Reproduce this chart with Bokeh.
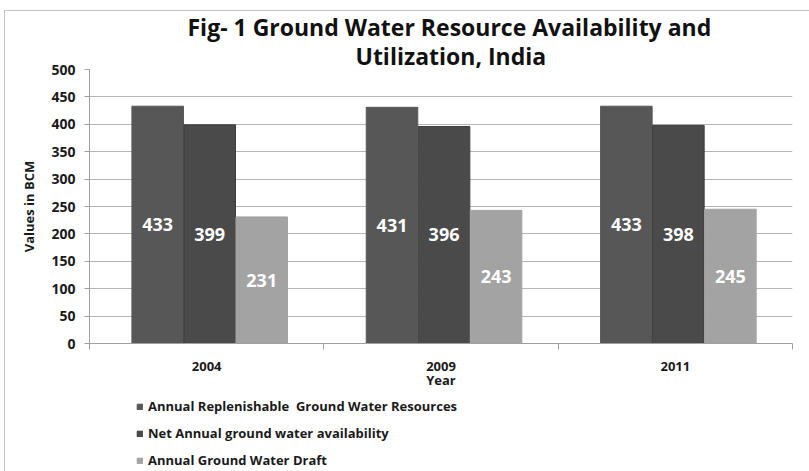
from bokeh.plotting import figure
from bokeh.layouts import column
from bokeh.models import (ColumnDataSource, FixedTicker, Legend, LegendItem, Title, Range1d)
from bokeh.core.properties import value
from bokeh.embed import file_html
from bokeh.resources import INLINE

years = ["2004", "2009", "2011"]
replenishable = [433, 431, 433]
net_avail = [399, 396, 398]
draft = [231, 243, 245]
series_names = ["Annual Replenishable  Ground Water Resources",
                "Net Annual ground water availability",
                "Annual Ground Water Draft"]
colors = ["#575757", "#4a4a4a", "#a3a3a3"]
y_ticks = [0, 50, 100, 150, 200, 250, 300, 350, 400, 450, 500]
title_lines = ["Fig- 1  Ground Water Resource Availability and", "Utilization, India"]
title_offsets = [98, 266]

FONT = "Open Sans"
centers = [i + 0.5 for i in range(len(years))]
offsets = [-0.222, 0.0, 0.222]
shift = 0.013
bw = 0.22
line_colors = [colors[0], "#3e3e3e", colors[2]]
series = [replenishable, net_avail, draft]

p = figure(width=804, height=382, output_backend="svg", toolbar_location=None,
           x_range=Range1d(0, 3), y_range=Range1d(0, 500),
           min_border_left=84, min_border_right=17, min_border_top=58, min_border_bottom=50)
p.outline_line_color = None
p.background_fill_color = "white"
p.border_fill_color = "white"

sources = []
for k, vals in enumerate(series):
    xs = [c + shift + offsets[k] for c in centers]
    src = ColumnDataSource(dict(x=xs, top=vals, mid=[v / 2 for v in vals],
                                lab=[str(v) for v in vals]))
    sources.append(src)
    p.vbar(x="x", top="top", width=bw, source=src, fill_color=colors[k],
           line_color=line_colors[k], line_width=1)
    p.text(x="x", y="mid", text="lab", source=src, text_color="white",
           text_font=value(FONT), text_font_style="bold", text_font_size="18px",
           text_align="center", text_baseline="middle")

# axes
p.yaxis.ticker = FixedTicker(ticks=y_ticks)
p.yaxis.major_label_text_font = FONT
p.yaxis.major_label_text_font_style = "bold"
p.yaxis.major_label_text_font_size = "14px"
p.yaxis.major_label_text_color = "#1a1a1a"
p.yaxis.major_tick_out = 5
p.yaxis.major_tick_in = 0
p.yaxis.minor_tick_line_color = None
p.yaxis.major_tick_line_color = "#a0a0a0"
p.yaxis.axis_line_color = "#a0a0a0"
p.yaxis.major_label_standoff = 9
p.yaxis.axis_label = "Values in BCM"
p.yaxis.axis_label_text_font = FONT
p.yaxis.axis_label_text_font_style = "bold"
p.yaxis.axis_label_text_font_size = "13px"
p.yaxis.axis_label_text_color = "#1a1a1a"
p.yaxis.axis_label_standoff = 10

p.xaxis.ticker = FixedTicker(ticks=centers, minor_ticks=[0, 1, 2, 3])
p.xaxis.major_label_overrides = {c: y for c, y in zip(centers, years)}
p.xaxis.major_label_text_font = FONT
p.xaxis.major_label_text_font_style = "bold"
p.xaxis.major_label_text_font_size = "13px"
p.xaxis.major_label_text_color = "#1a1a1a"
p.xaxis.major_tick_line_color = None
p.xaxis.major_tick_out = 0
p.xaxis.major_tick_in = 0
p.xaxis.minor_tick_out = 6
p.xaxis.minor_tick_in = 0
p.xaxis.minor_tick_line_color = "#a0a0a0"
p.xaxis.axis_line_color = "#a0a0a0"
p.xaxis.major_label_standoff = 12
p.xaxis.axis_label = "Year"
p.xaxis.axis_label_text_font = FONT
p.xaxis.axis_label_text_font_style = "bold"
p.xaxis.axis_label_text_font_size = "13px"
p.xaxis.axis_label_text_color = "#1a1a1a"
p.xaxis.axis_label_standoff = -3

p.xgrid.grid_line_color = None
p.ygrid.ticker = FixedTicker(ticks=y_ticks)
p.ygrid.grid_line_color = "#b4b4b4"

# title: second line first (closest to plot), then first line
for line, off in reversed(list(zip(title_lines, title_offsets))):
    p.add_layout(Title(text=line, align="left", offset=off, text_font=FONT,
                       text_font_style="bold", text_font_size="23px",
                       text_color="#111111", standoff=-5), "above")

# legend panel (separate small figure; its renderers are hidden, only the legend shows)
lf = figure(width=804, height=78, output_backend="svg", toolbar_location=None,
            x_axis_type=None, y_axis_type=None, x_range=Range1d(0, 3), y_range=Range1d(-2, -1),
            min_border_left=0, min_border_right=0, min_border_top=0, min_border_bottom=0)
lf.outline_line_color = None
lf.grid.grid_line_color = None
lf.border_fill_color = "white"
lf.background_fill_color = "white"
items = []
for k in range(3):
    r = lf.vbar(x="x", top="top", width=bw, source=sources[k],
                fill_color=colors[k], line_color=line_colors[k])
    r.visible = False
    items.append(LegendItem(label=series_names[k], renderers=[r]))
legend = Legend(items=items, location=(47, 1), orientation="vertical",
                label_text_font=FONT, label_text_font_style="bold", label_text_font_size="13px",
                label_text_color="#1a1a1a", glyph_width=7, glyph_height=7,
                label_height=20, spacing=7, padding=0, margin=0,
                border_line_color=None, background_fill_alpha=0, label_standoff=5)
lf.add_layout(legend)

page = column(p, lf, spacing=0)
page.margin = (10, 0, 0, 4)
page.styles = {"border-left": "1px solid #c4c4c4", "border-top": "1px solid #c4c4c4",
               "background-color": "white"}

open("out.html", "w").write(file_html(page, INLINE))
